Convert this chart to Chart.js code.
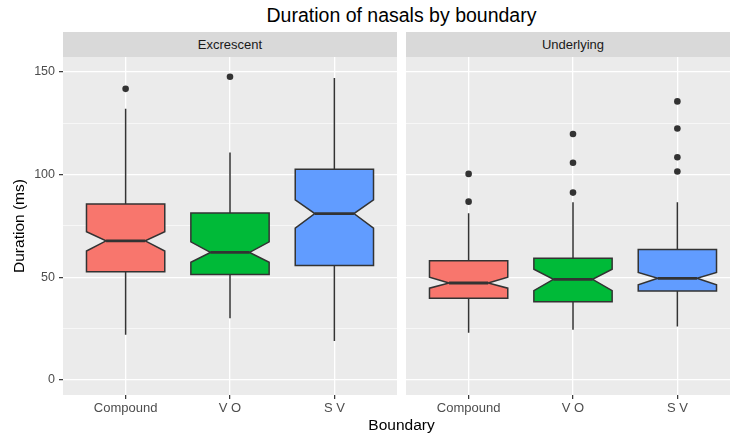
<!DOCTYPE html>
<html>
<head>
<meta charset="utf-8">
<script src="https://cdn.jsdelivr.net/npm/chart.js@4.4.1/dist/chart.umd.min.js"></script>
<style>
  html, body { margin: 0; padding: 0; background: #fff; }
  body { width: 730px; height: 435px; overflow: hidden; position: relative;
         font-family: "Liberation Sans", Arial, sans-serif; }
  .title { position: absolute; left: 63px; width: 677px; text-align: center; color: #000; }
  #main-title { top: 4px; font-size: 19.5px; line-height: 22px; }
  #x-title { top: 416px; font-size: 15.5px; line-height: 18px; }
  .strip { position: absolute; top: 32px; height: 25px; width: 334px; background: #d9d9d9;
           color: #1a1a1a; font-size: 13px; line-height: 25px; text-align: center; }
  canvas { position: absolute; top: 57px; }
</style>
</head>
<body>
<div class="title" id="main-title">Duration of nasals by boundary</div>
<div class="strip" id="strip-exc" style="left:63px"></div>
<div class="strip" id="strip-und" style="left:406px"></div>
<canvas id="chart-exc" width="397" height="363" style="left:0"></canvas>
<canvas id="chart-und" width="334" height="363" style="left:406px"></canvas>
<div class="title" id="x-title">Boundary</div>

<script>
const panels = ["Excrescent", "Underlying"];
const categories = ["Compound", "V O", "S V"];
const fillColors = ["#F8766D", "#00BA38", "#619CFF"];
const yTicks = [0, 50, 100, 150];
const yMinor = [25, 75, 125];

// Excrescent
const excLower = [22, 30, 19];
const excQ1 = [52.7, 51.4, 55.7];
const excNotchLo = [62.8, 57.3, 73.9];
const excMedian = [67.7, 62.1, 81];
const excNotchHi = [72.2, 67.2, 87.7];
const excQ3 = [85.7, 81.3, 102.6];
const excUpper = [132, 110.7, 147];
const excOutliers = [[141.7], [147.6], []];

// Underlying
const undLower = [23, 24.4, 26];
const undQ1 = [39.8, 38.1, 43.3];
const undNotchLo = [44.7, 43.5, 46.3];
const undMedian = [47.2, 49, 49.5];
const undNotchHi = [50, 53.9, 52.3];
const undQ3 = [58, 59.2, 63.5];
const undUpper = [81.2, 86.5, 86.5];
const undOutliers = [[86.8, 100.3], [91.2, 105.7, 119.7], [101.5, 108.4, 122.4, 135.6]];

const BOX_WIDTH = 0.75;
const NOTCH_WIDTH = 0.5;

Chart.defaults.font.family = "'Liberation Sans', Arial, sans-serif";

function makeBoxes(lower, q1, nlo, med, nhi, q3, upper) {
  return categories.map((c, i) => ({
    x: i + 1, lower: lower[i], q1: q1[i], notchLo: nlo[i], median: med[i],
    notchHi: nhi[i], q3: q3[i], upper: upper[i], color: fillColors[i],
  }));
}

const panelBg = {
  id: "panelBg",
  beforeDraw(chart) {
    const a = chart.chartArea;
    const ctx = chart.ctx;
    ctx.save();
    ctx.fillStyle = "#ebebeb";
    ctx.fillRect(a.left, a.top, a.right - a.left, a.bottom - a.top);
    ctx.restore();
  },
};

const boxPlots = {
  id: "boxPlots",
  beforeDatasetsDraw(chart, args, opts) {
    const xs = chart.scales.x, ys = chart.scales.y;
    const ctx = chart.ctx;
    ctx.save();
    for (const b of opts.boxes) {
      const cx = xs.getPixelForValue(b.x);
      const l = xs.getPixelForValue(b.x - BOX_WIDTH / 2);
      const r = xs.getPixelForValue(b.x + BOX_WIDTH / 2);
      const nl = xs.getPixelForValue(b.x - BOX_WIDTH * NOTCH_WIDTH / 2);
      const nr = xs.getPixelForValue(b.x + BOX_WIDTH * NOTCH_WIDTH / 2);
      const y = (v) => ys.getPixelForValue(v);

      // whiskers
      ctx.strokeStyle = "#333333";
      ctx.lineWidth = 1.5;
      ctx.beginPath();
      ctx.moveTo(cx, y(b.q3)); ctx.lineTo(cx, y(b.upper));
      ctx.moveTo(cx, y(b.q1)); ctx.lineTo(cx, y(b.lower));
      ctx.stroke();

      // notched box
      ctx.beginPath();
      ctx.moveTo(l, y(b.q3));
      ctx.lineTo(l, y(b.notchHi));
      ctx.lineTo(nl, y(b.median));
      ctx.lineTo(l, y(b.notchLo));
      ctx.lineTo(l, y(b.q1));
      ctx.lineTo(r, y(b.q1));
      ctx.lineTo(r, y(b.notchLo));
      ctx.lineTo(nr, y(b.median));
      ctx.lineTo(r, y(b.notchHi));
      ctx.lineTo(r, y(b.q3));
      ctx.closePath();
      ctx.fillStyle = b.color;
      ctx.fill();
      ctx.lineJoin = "miter";
      ctx.stroke();

      // median
      ctx.lineWidth = 2.8;
      ctx.beginPath();
      ctx.moveTo(nl, y(b.median));
      ctx.lineTo(nr, y(b.median));
      ctx.stroke();
    }
    ctx.restore();
  },
};

function makeChart(id, boxes, outliers, showY) {
  const pts = outliers.flatMap((vals, i) => vals.map((v) => ({ x: i + 1, y: v })));
  return new Chart(document.getElementById(id), {
    type: "scatter",
    data: {
      datasets: [{
        data: pts,
        pointRadius: 3.3,
        pointBackgroundColor: "#333333",
        pointBorderWidth: 0,
      }],
    },
    plugins: [panelBg, boxPlots],
    options: {
      responsive: false,
      animation: false,
      layout: { padding: 0, autoPadding: false },
      scales: {
        x: {
          type: "linear",
          min: 0.4,
          max: 3.6,
          afterBuildTicks: (s) => { s.ticks = categories.map((c, i) => ({ value: i + 1 })); },
          afterFit: (s) => { s.height = 25; s.paddingLeft = 0; s.paddingRight = 0; },
          border: { display: false },
          grid: { color: "#ffffff", lineWidth: 1.3, tickColor: "#333333", tickLength: 4, tickWidth: 1.2 },
          ticks: {
            callback: (v, i) => categories[i],
            color: "#4d4d4d",
            font: { size: 13 },
            padding: 2,
            maxRotation: 0,
            autoSkip: false,
          },
        },
        y: {
          min: -7.3,
          max: 157.2,
          afterBuildTicks: (s) => {
            s.ticks = [...yTicks, ...yMinor].sort((a, b) => a - b).map((v) => ({ value: v }));
          },
          afterFit: (s) => { s.width = showY ? 63 : 0; s.paddingTop = 0; s.paddingBottom = 0; },
          border: { display: false },
          grid: {
            color: "#ffffff",
            lineWidth: (c) => (yTicks.includes(c.tick.value) ? 1.3 : 0.6),
            drawTicks: showY,
            tickLength: 4,
            tickWidth: 1.2,
            tickColor: (c) => (yTicks.includes(c.tick.value) ? "#333333" : "rgba(0,0,0,0)"),
          },
          ticks: {
            display: showY,
            callback: (v) => (yTicks.includes(v) ? String(v) : ""),
            color: "#4d4d4d",
            font: { size: 12.5 },
            padding: 4,
          },
          title: {
            display: showY,
            text: "Duration (ms)",
            color: "#000000",
            font: { size: 15.5 },
            padding: { top: 10, bottom: 0 },
          },
        },
      },
      plugins: {
        legend: { display: false },
        tooltip: { enabled: false },
        boxPlots: { boxes },
      },
    },
  });
}

document.getElementById("strip-exc").textContent = panels[0];
document.getElementById("strip-und").textContent = panels[1];

makeChart("chart-exc",
  makeBoxes(excLower, excQ1, excNotchLo, excMedian, excNotchHi, excQ3, excUpper),
  excOutliers, true);
makeChart("chart-und",
  makeBoxes(undLower, undQ1, undNotchLo, undMedian, undNotchHi, undQ3, undUpper),
  undOutliers, false);
</script>
</body>
</html>
